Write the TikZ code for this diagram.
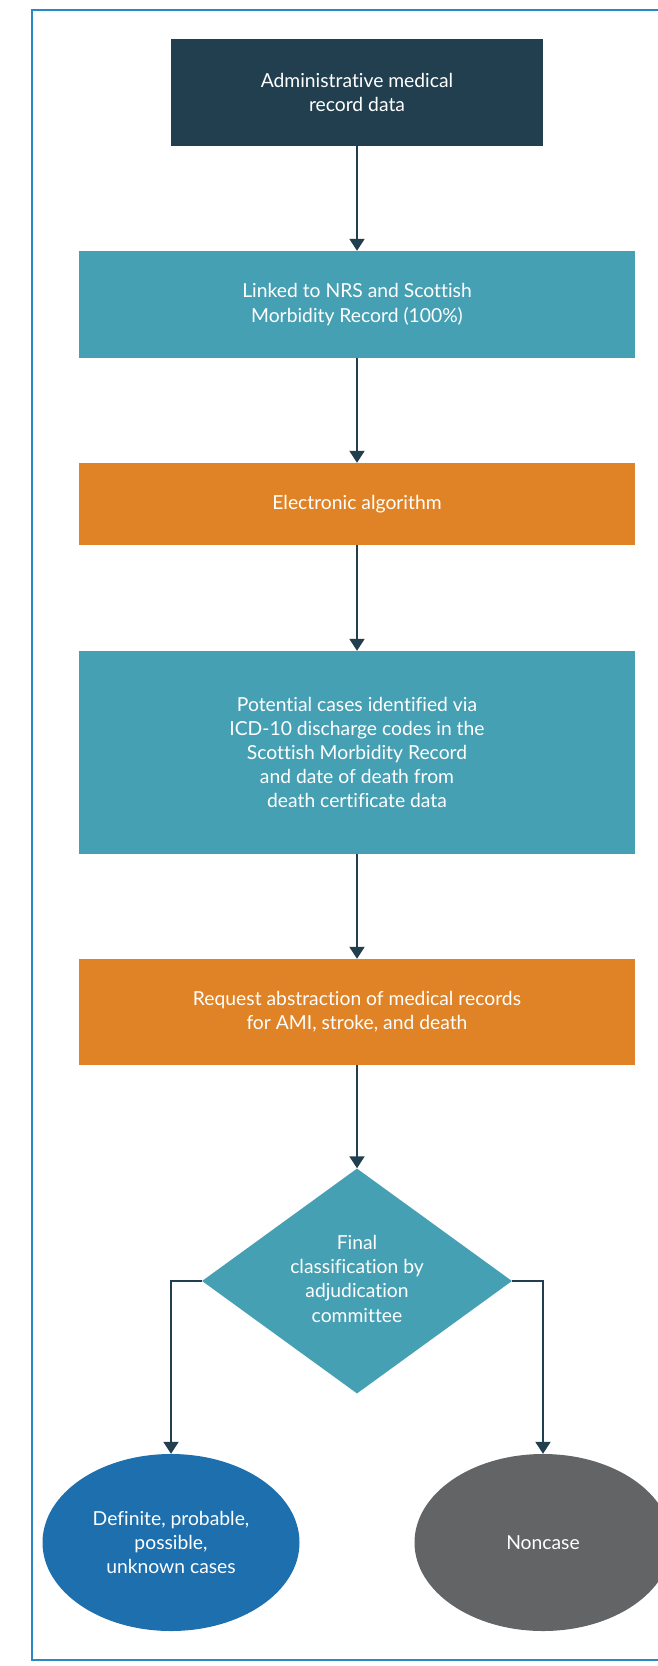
\documentclass[tikz,border=0pt]{standalone}
\usepackage{fontspec}
\setmainfont{Lato}[Ligatures=NoCommon]
\usetikzlibrary{shapes.geometric,arrows.meta}
\definecolor{navy}{HTML}{213F4F}
\definecolor{teal}{HTML}{45A0B4}
\definecolor{amber}{HTML}{E08326}
\definecolor{caseblue}{HTML}{1D6FAE}
\definecolor{slate}{HTML}{636466}
\definecolor{frame}{HTML}{2A88C4}
\tikzset{
  every node/.style={text=white, font=\fontsize{19.3}{24.2}\selectfont, align=center},
  stepbox/.style={rectangle, inner sep=0pt, minimum width=556},
  decision/.style={diamond, fill=teal, inner sep=0pt, aspect=1.38, minimum width=310, minimum height=225},
  outcome/.style={ellipse, inner sep=0pt, minimum width=257, minimum height=177},
  arr/.style={draw=navy, line width=2pt, -{Triangle[width=15pt,length=12pt]}},
}
\begin{document}
\begin{tikzpicture}[x=1pt,y=-1pt]
\useasboundingbox (0,0) rectangle (658,1666);
\clip (0,0) rectangle (658,1666);
% outer frame
\draw[frame, line width=1.4pt] (32,10) rectangle (700,1660);

% flow steps
\node[stepbox, fill=navy, minimum width=372, minimum height=107] (admin) at (357,92.5)
  {Administrative medical\\record data};
\node[stepbox, fill=teal, minimum height=107] (link) at (357,304.5)
  {Linked to NRS and Scottish\\Morbidity Record (100\%)};
\node[stepbox, fill=amber, minimum height=82] (algo) at (357,504)
  {Electronic algorithm};
\node[stepbox, fill=teal, minimum height=203] (pot) at (357,752.5)
  {Potential cases identified via\\ICD-10 discharge codes in the\\Scottish Morbidity Record\\and date of death from\\death certificate data};
\node[stepbox, fill=amber, minimum height=106] (req) at (357,1012)
  {Request abstraction of medical records\\for AMI, stroke, and death};
\node[decision] (dec) at (357,1281)
  {\raisebox{6pt}{\begin{tabular}{@{}c@{}}Final\\classification by\\adjudication\\committee\end{tabular}}};

% outcomes
\node[outcome, fill=caseblue] (cases) at (171,1542.5)
  {Definite, probable,\\possible,\\unknown cases};
\node[outcome, fill=slate] (non) at (543,1542.5) {Noncase};

% connectors
\draw[arr] (admin.south) -- (link.north);
\draw[arr] (link.south) -- (algo.north);
\draw[arr] (algo.south) -- (pot.north);
\draw[arr] (pot.south) -- (req.north);
\draw[arr] (req.south) -- (dec.north);
\draw[arr] (dec.west) -| (cases.north);
\draw[arr] (dec.east) -| (non.north);
\end{tikzpicture}
\end{document}
